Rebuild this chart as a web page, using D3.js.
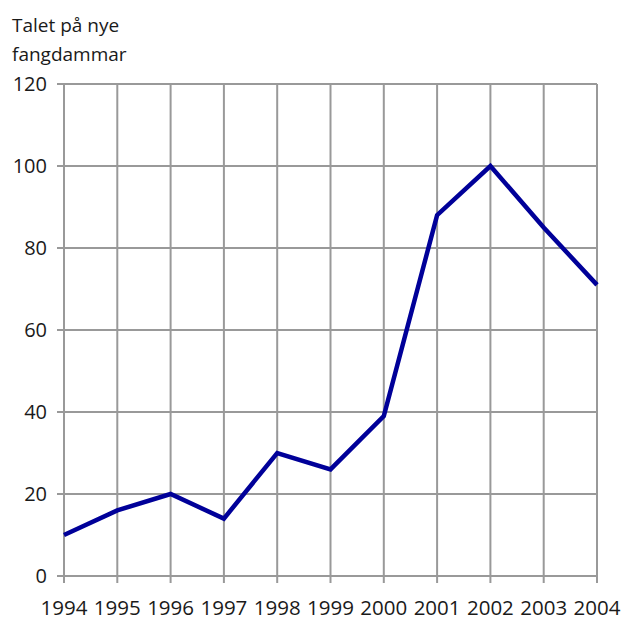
<!DOCTYPE html>
<html>
<head>
<meta charset="utf-8">
<script src="https://cdn.jsdelivr.net/npm/d3@7"></script>
<style>
  body { margin: 0; background: #fff; }
  svg text { font-family: "Open Sans", "Noto Sans", sans-serif; fill: #1a1a1a; }
</style>
</head>
<body>
<div id="chart"></div>
<script>
// Talet på nye fangdammar per år
const years = [1994, 1995, 1996, 1997, 1998, 1999, 2000, 2001, 2002, 2003, 2004];
const values = [10, 16, 20, 14, 30, 26, 39, 88, 100, 85, 71];
const yTicks = [0, 20, 40, 60, 80, 100, 120];
const titleLines = ["Talet på nye", "fangdammar"];

const width = 624, height = 622;
const margin = { top: 84, right: 27, bottom: 46, left: 64 };

const svg = d3.select("#chart").append("svg")
    .attr("width", width)
    .attr("height", height);

const x = d3.scaleLinear()
    .domain([years[0], years[years.length - 1]])
    .range([margin.left, width - margin.right]);

const y = d3.scaleLinear()
    .domain([0, 120])
    .range([height - margin.bottom, margin.top]);

const gridColor = "#999999";

// vertical grid lines
svg.append("g")
    .selectAll("line")
    .data(years)
    .join("line")
    .attr("x1", d => x(d)).attr("x2", d => x(d))
    .attr("y1", y(120)).attr("y2", y(0) + 7)
    .attr("stroke", gridColor)
    .attr("stroke-width", 2);

// horizontal grid lines
svg.append("g")
    .selectAll("line")
    .data(yTicks)
    .join("line")
    .attr("x1", x(years[0]) - 7).attr("x2", x(years[years.length - 1]))
    .attr("y1", d => y(d)).attr("y2", d => y(d))
    .attr("stroke", gridColor)
    .attr("stroke-width", 2);

// y tick labels
svg.append("g")
    .selectAll("text")
    .data(yTicks)
    .join("text")
    .attr("x", 47)
    .attr("y", d => y(d))
    .attr("dy", "0.36em")
    .attr("text-anchor", "end")
    .style("font-size", "20px")
    .text(d => d);

// x tick labels
svg.append("g")
    .selectAll("text")
    .data(years)
    .join("text")
    .attr("x", d => x(d))
    .attr("y", 615)
    .attr("text-anchor", "middle")
    .style("font-size", "20.5px")
    .text(d => d);

// axis title
svg.append("text")
    .attr("x", 12)
    .attr("y", 32)
    .style("font-size", "19px")
    .selectAll("tspan")
    .data(titleLines)
    .join("tspan")
    .attr("x", 12)
    .attr("dy", (d, i) => i === 0 ? 0 : 29)
    .text(d => d);

// data line
const line = d3.line()
    .x((d, i) => x(years[i]))
    .y(d => y(d));

svg.append("path")
    .datum(values)
    .attr("fill", "none")
    .attr("stroke", "#000099")
    .attr("stroke-width", 4.5)
    .attr("stroke-linejoin", "miter")
    .attr("d", line);
</script>
</body>
</html>
